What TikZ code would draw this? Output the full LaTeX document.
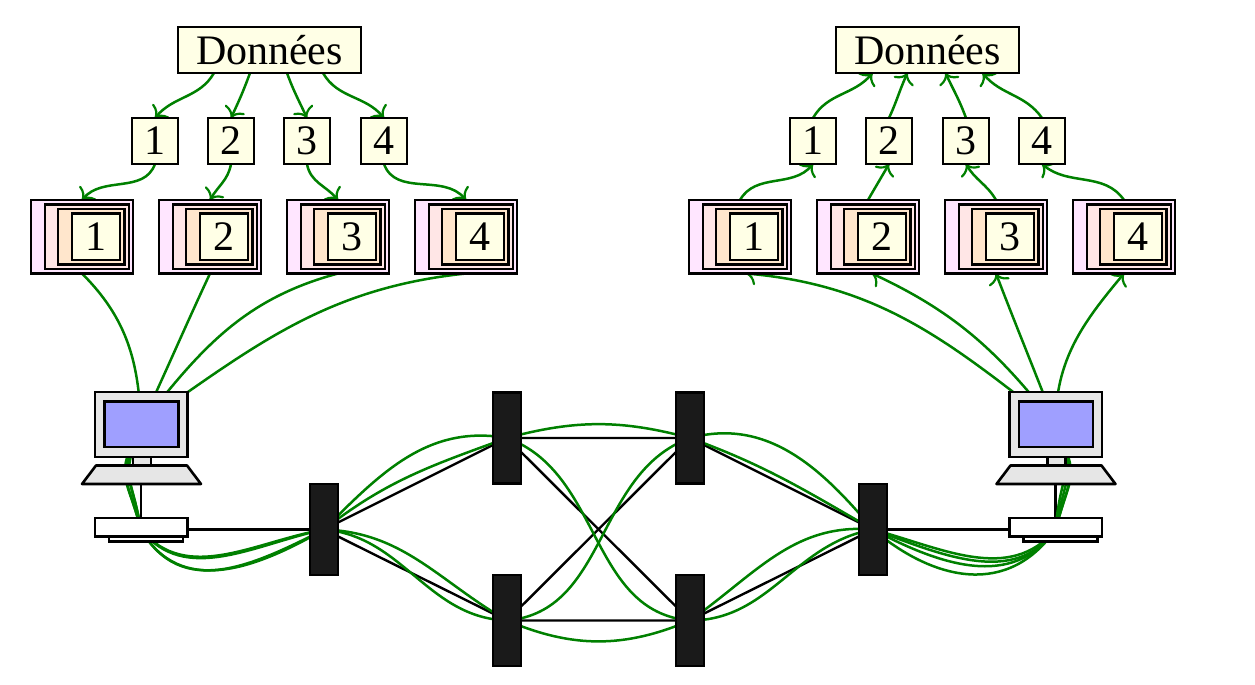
\documentclass[tikz,border=0pt]{standalone}
\usepackage{fontspec}
\setmainfont{Liberation Serif}
\usetikzlibrary{arrows.meta}
\pgfdeclarelayer{bg}
\pgfsetlayers{bg,main}
\definecolor{gl}{HTML}{008000}
\definecolor{cA}{HTML}{FFE6FF}
\definecolor{cB}{HTML}{FFE6E6}
\definecolor{cC}{HTML}{FFE6CC}
\definecolor{cD}{HTML}{FFFFE6}
\definecolor{grayf}{HTML}{E6E6E6}
\definecolor{blu}{HTML}{9F9FFF}
\definecolor{dark}{HTML}{1A1A1A}
\tikzset{
  base/.style={draw=black,line width=1.3pt,inner sep=0pt,outer sep=0pt,font=\fontsize{21}{22}\selectfont},
  databox/.style={base,fill=cD},
  gA/.style={base,fill=cA}, gB/.style={base,fill=cB}, gC/.style={base,fill=cC},
  greyb/.style={base,fill=grayf}, blueb/.style={base,fill=blu},
  whiteb/.style={base,fill=white}, switchb/.style={base,fill=dark},
  wire/.style={draw=black,line width=1.2pt},
  flow/.style={draw=gl,line width=1.25pt},
  flowa/.style={flow,-{Computer Modern Rightarrow[length=5pt,width=11pt,line width=1.1pt]}},
}
\newcommand{\pxbox}[7]{%
  \pgfmathsetmacro\bx{(#3+#5)/2}\pgfmathsetmacro\by{(#4+#6)/2}%
  \pgfmathsetmacro\bw{(#5-#3)/2}\pgfmathsetmacro\bh{(#6-#4)/2}%
  \node[#2,minimum width=\bw pt,minimum height=\bh pt] (#1) at (\bx,\by) {#7};}
\begin{document}
\begin{tikzpicture}[x=0.5pt,y=-0.5pt]
\useasboundingbox (0,0) rectangle (1255,685);
% nodes
\pxbox{dataL}{databox}{178}{27}{361}{73}{Données}
\pxbox{dataR}{databox}{836}{27}{1019}{73}{Données}
\foreach \n/\x/\t in {bL1/132/1,bL2/208/2,bL3/284/3,bL4/361/4,bR1/790/1,bR2/866/2,bR3/943/3,bR4/1019/4}{
  \pgfmathsetmacro\xe{\x+46}
  \pxbox{\n}{databox}{\x}{118}{\xe}{164}{\t}
}
\foreach \k/\x/\t in {L1/31/1,L2/159/2,L3/287/3,L4/415/4,R1/689/1,R2/817/2,R3/945/3,R4/1073/4}{
  \pgfmathsetmacro\xe{\x+102}
  \pxbox{st\k}{gA}{\x}{200}{\xe}{273.5}{}
  \pgfmathsetmacro\xa{\x+14}\pgfmathsetmacro\xb{\x+98}
  \pxbox{stb\k}{gB}{\xa}{204.5}{\xb}{269}{}
  \pgfmathsetmacro\xa{\x+27}\pgfmathsetmacro\xb{\x+93.5}
  \pxbox{stc\k}{gC}{\xa}{209}{\xb}{264.5}{}
  \pgfmathsetmacro\xa{\x+41}\pgfmathsetmacro\xb{\x+89}
  \pxbox{std\k}{databox}{\xa}{213.5}{\xb}{260}{\t}
}
\foreach \s/\d in {L/0,R/914.5}{
  \pgfmathsetmacro\xa{133+\d}\pgfmathsetmacro\xb{151+\d}
  \pxbox{neck\s}{greyb}{\xa}{457}{\xb}{465}{}
  \pgfmathsetmacro\xa{95+\d}\pgfmathsetmacro\xb{187.5+\d}
  \pxbox{scr\s}{greyb}{\xa}{392}{\xb}{457}{}
  \pgfmathsetmacro\xa{104.5+\d}\pgfmathsetmacro\xb{178.5+\d}
  \pxbox{vis\s}{blueb}{\xa}{401.5}{\xb}{447}{}
  \pgfmathsetmacro\xa{96+\d}\pgfmathsetmacro\xb{187+\d}\pgfmathsetmacro\xc{201+\d}\pgfmathsetmacro\xe{82+\d}
  \draw[line width=1.3pt,fill=grayf,line join=round] (\xa,465.5) -- (\xb,465.5) -- (\xc,484) -- (\xe,484) -- cycle;
  \pgfmathsetmacro\xa{109+\d}\pgfmathsetmacro\xb{183+\d}
  \pxbox{foot\s}{whiteb}{\xa}{533}{\xb}{541.5}{}
  \pgfmathsetmacro\xa{95+\d}\pgfmathsetmacro\xb{187.5+\d}
  \pxbox{box\s}{whiteb}{\xa}{518}{\xb}{536.5}{}
}
\foreach \n/\x/\y in {s1/324/529.5,s2/507/438,s3/507/620.5,s4/690/438,s5/690/620.5,s6/873/529.5}{
  \pgfmathsetmacro\xa{\x-14}\pgfmathsetmacro\xb{\x+14}\pgfmathsetmacro\ya{\y-45.5}\pgfmathsetmacro\yb{\y+45.5}
  \pxbox{\n}{switchb}{\xa}{\ya}{\xb}{\yb}{}
}
\coordinate (pcL) at (141,425);
\coordinate (pcR) at (1055.5,425);
\coordinate (rtL) at (141,529.5);
\coordinate (rtR) at (1055.5,529.5);
\begin{pgfonlayer}{bg}
% wires
\draw[wire] (pcL)--(rtL)--(s1.center) (pcR)--(rtR)--(s6.center);
\draw[wire] (s1.center)--(s2.center) (s1.center)--(s3.center) (s2.center)--(s4.center) (s2.center)--(s5.center)
  (s3.center)--(s4.center) (s3.center)--(s5.center) (s4.center)--(s6.center) (s5.center)--(s6.center);
% left flows
\draw[flowa] ([xshift=-27.75pt]dataL.south) to[out=-120,in=50] (bL1.north);
\draw[flowa] ([xshift=-9.75pt]dataL.south) to[out=-110,in=65] (bL2.north);
\draw[flowa] ([xshift=8.75pt]dataL.south) to[out=-70,in=115] (bL3.north);
\draw[flowa] ([xshift=26.75pt]dataL.south) to[out=-60,in=130] (bL4.north);
\draw[flowa] (bL1.south) to[out=-110,in=50] (stL1.north);
\draw[flowa] (bL2.south) to[out=-100,in=60] (stL2.north);
\draw[flowa] (bL3.south) to[out=-80,in=130] (stL3.north);
\draw[flowa] (bL4.south) to[out=-70,in=130] (stL4.north);
\draw[flow] (stL1.south) to[out=-45,in=92] (pcL);
\draw[flow] (stL2.south) to[out=-115,in=65] (pcL);
\draw[flow] (stL3.south) to[out=-165,in=52] (pcL);
\draw[flow] (stL4.south) to[out=-174,in=35] (pcL);
% right flows
\draw[flowa] (bR1.north) to[out=60,in=-130] ([xshift=-27.5pt]dataR.south);
\draw[flowa] (bR2.north) to[out=65,in=-115] ([xshift=-10pt]dataR.south);
\draw[flowa] (bR3.north) to[out=110,in=-65] ([xshift=9pt]dataR.south);
\draw[flowa] (bR4.north) to[out=125,in=-50] ([xshift=27.5pt]dataR.south);
\draw[flowa] (stR1.north) to[out=60,in=-130] (bR1.south);
\draw[flowa] (stR2.north) to[out=60,in=-120] (bR2.south);
\draw[flowa] (stR3.north) to[out=120,in=-60] (bR3.south);
\draw[flowa] (stR4.north) to[out=125,in=-40] (bR4.south);
\draw[flowa] (pcR) to[out=142,in=-5] ([xshift=3pt]stR1.south);
\draw[flowa] (pcR) to[out=128,in=-25] ([xshift=2pt]stR2.south);
\draw[flowa] (pcR) to[out=111,in=-69] (stR3.south);
\draw[flowa] (pcR) to[out=90,in=-130] (stR4.south);
% computer to router
\draw[flow] (pcL) to[out=-116,in=105,looseness=1.5] (rtL);
\draw[flow] (pcL) to[out=-114,in=105,looseness=1.5] (rtL);
\draw[flow] (pcL) to[out=-112,in=100,looseness=1.5] (rtL);
\draw[flow] (pcL) to[out=-110,in=100,looseness=1.5] (rtL);
\draw[flow] (pcR) to[out=-66,in=75,looseness=1.5] (rtR);
\draw[flow] (pcR) to[out=-68,in=75,looseness=1.5] (rtR);
\draw[flow] (pcR) to[out=-70,in=80,looseness=1.5] (rtR);
\draw[flow] (pcR) to[out=-72,in=85,looseness=1.5] (rtR);
% router to first and last switch
\draw[flow] (rtL) to[out=-50,in=-170] (s1.center);
\draw[flow] (rtL) to[out=-52,in=-168] (s1.center);
\draw[flow] (rtL) to[out=-60,in=-150,looseness=1.1] (s1.center);
\draw[flow] (rtL) to[out=-60,in=-153,looseness=1.13] (s1.center);
\draw[flow] (s6.center) to[out=-15,in=-130] (rtR);
\draw[flow] (s6.center) to[out=-20,in=-125] (rtR);
\draw[flow] (s6.center) to[out=-28,in=-125,looseness=1.05] (rtR);
\draw[flow] (s6.center) to[out=-40,in=-125,looseness=1.15] (rtR);
% network
\draw[flow] (s1.center) to[out=45,in=170] (s2.center);
\draw[flow] (s1.center) to[out=38,in=-160] (s2.center);
\draw[flow] (s1.center) to[out=-2,in=150] (s3.center);
\draw[flow] (s1.center) to[out=-5,in=178] (s3.center);
\draw[flow] (s2.center) to[out=15,in=165] (s4.center);
\draw[flow] (s2.center) to[out=-20,in=175] (s5.center);
\draw[flow] (s3.center) to[out=5,in=-160] (s4.center);
\draw[flow] (s3.center) to[out=-23,in=-157] (s5.center);
\draw[flow] (s4.center) to[out=15,in=130] (s6.center);
\draw[flow] (s4.center) to[out=-20,in=150] (s6.center);
\draw[flow] (s5.center) to[out=35,in=175] (s6.center);
\draw[flow] (s5.center) to[out=0,in=190] (s6.center);
\end{pgfonlayer}
\end{tikzpicture}
\end{document}
